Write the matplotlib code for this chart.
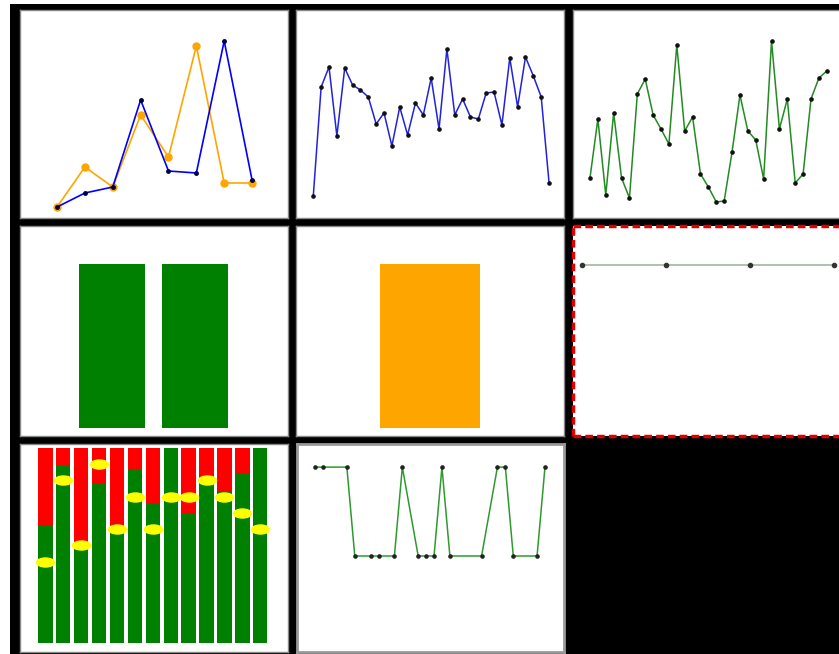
import matplotlib
matplotlib.use("Agg")
import matplotlib.pyplot as plt
from matplotlib.patches import Rectangle
from matplotlib.markers import MarkerStyle
from matplotlib.transforms import Affine2D
import numpy as np

# ---------------- data ----------------
p1_blue = [1.3, 2.7, 3.3, 12.0, 4.9, 4.7, 17.9, 4.0]
p1_orange = [1.3, 5.3, 3.3, 10.5, 6.3, 17.4, 3.7, 3.7]

p2_blue = [2.4, 13.3, 15.3, 8.4, 15.2, 13.5, 13.0, 12.3, 9.6, 10.7, 7.4, 11.3,
           8.5, 11.7, 10.5, 14.2, 9.1, 17.1, 10.5, 12.1, 10.3, 10.1, 12.7, 12.8,
           9.5, 16.2, 11.3, 16.3, 14.4, 12.3, 3.7]

p3_green = [4.2, 10.1, 2.5, 10.7, 4.2, 2.2, 12.6, 14.1, 10.5, 9.1, 7.6, 17.5,
            8.9, 10.3, 4.6, 3.3, 1.8, 1.9, 6.8, 12.5, 8.9, 8.0, 4.1, 17.9,
            9.1, 12.1, 3.7, 4.6, 12.1, 14.2, 14.9]

p4_cats = ["A", "B"]
p4_vals = [1.0, 1.0]

p5_cats = ["A"]
p5_vals = [1.0]

p6_vals = [5, 5, 5, 5]

p7_green = [0.598, 0.906, 0.513, 0.82, 0.598, 0.889, 0.715, 1.0, 0.663,
            0.82, 0.778, 0.872, 1.0]
p7_marks = [5/12, 10/12, 6/12, 11/12, 7/12, 9/12, 7/12, 9/12, 9/12,
            10/12, 9/12, 8/12, 7/12]

p8_x = [0, 1, 4, 5, 7, 8, 10, 11, 13, 14, 15, 16, 17, 21, 23, 24, 25, 28, 29]
p8_y = [1, 1, 1, 0, 0, 0, 0, 1, 0, 0, 0, 1, 0, 0, 1, 1, 0, 0, 1]

# ---------------- layout ----------------
W, H = 839, 654
fig = plt.figure(figsize=(W / 100, H / 100), dpi=100, facecolor="white")
fig.patches.append(Rectangle((10 / W, 0), 1, (H - 4) / H, transform=fig.transFigure,
                             facecolor="black", edgecolor="none", zorder=-10))


def make_ax(x0, x1, y0, y1, spine_color="black", lw=1.0):
    ax = fig.add_axes([x0 / W, (H - y1) / H, (x1 - x0) / W, (y1 - y0) / H])
    ax.set_zorder(1)
    ax.set_facecolor("white")
    ax.set_xticks([])
    ax.set_yticks([])
    for s in ax.spines.values():
        s.set_color(spine_color)
        s.set_linewidth(lw)
    return ax


cols = [(20, 288), (296, 564), (573, 841)]
rows = [(10, 218), (226, 436), (444, 652)]

# Panel 1
ax = make_ax(*cols[0], *rows[0], spine_color="#888888")
x = np.arange(len(p1_blue))
ax.plot(x, p1_orange, color="orange", lw=1.2, marker="o", ms=5, mfc="orange", mec="orange")
ax.plot(x, p1_blue, color="blue", lw=1.2, marker="o", ms=2.5, mfc="#000044", mec="#000044")
ax.set_xlim(-1.33, 8.29)
ax.set_ylim(0.2, 21)

# Panel 2
ax = make_ax(*cols[1], *rows[0], spine_color="#888888")
x = np.arange(len(p2_blue))
ax.plot(x, p2_blue, color="#2222dd", lw=1.1, marker="o", ms=2.3, mfc="#111111", mec="#111111")
ax.set_xlim(-2.2, 31.9)
ax.set_ylim(0.2, 21)

# Panel 3
ax = make_ax(*cols[2], *rows[0], spine_color="#888888")
x = np.arange(len(p3_green))
ax.plot(x, p3_green, color="#228b22", lw=1.1, marker="o", ms=2.3, mfc="#111111", mec="#111111")
ax.set_xlim(-2.15, 31.8)
ax.set_ylim(0.2, 21)

# Panel 4
ax = make_ax(*cols[0], *rows[1], spine_color="#888888")
ax.bar(np.arange(len(p4_cats)), p4_vals, width=0.8, color="green")
ax.set_xlim(-1.11, 2.12)
ax.set_ylim(-0.05, 1.23)

# Panel 5
ax = make_ax(*cols[1], *rows[1], spine_color="#888888")
ax.bar(np.arange(len(p5_cats)), p5_vals, width=0.8, color="orange")
ax.set_xlim(-1.072, 1.072)
ax.set_ylim(-0.05, 1.23)

# Panel 6
ax = make_ax(*cols[2], *rows[1], spine_color="#e00000", lw=2.5)
for s in ax.spines.values():
    s.set_linestyle((0, (2.2, 1.2)))
    s.set_capstyle("butt")
ax.plot(np.arange(len(p6_vals)), p6_vals, color="#9fb89f", lw=1.2, marker="o", ms=3,
        mfc="#333333", mec="#333333")
ax.set_xlim(-0.107, 3.08)
ax.set_ylim(0, 6.14)

# Panel 7
ax = make_ax(*cols[0], *rows[2], spine_color="#888888")
x = np.arange(len(p7_green))
red = [1 - g for g in p7_green]
ax.bar(x, p7_green, width=0.8, color="green")
ax.bar(x, red, bottom=p7_green, width=0.8, color="red")
ell = MarkerStyle("o", transform=Affine2D().scale(1.0, 0.5))
ax.plot(x, p7_marks, linestyle="none", marker=ell, ms=13, mfc="yellow", mec="yellow")
ax.set_xlim(-1.42, 13.55)
ax.set_ylim(-0.046, 1.02)

# Panel 8
ax = make_ax(297, 564, *rows[2], spine_color="#999999", lw=2)
ax.plot(p8_x, p8_y, color="#2e9a2e", lw=1.1, marker="o", ms=2.3, mfc="#222222", mec="#222222")
ax.set_xlim(-2.29, 31.4)
ax.set_ylim(-1.08, 1.26)

fig.savefig("out.png", dpi=100, facecolor=fig.get_facecolor())
